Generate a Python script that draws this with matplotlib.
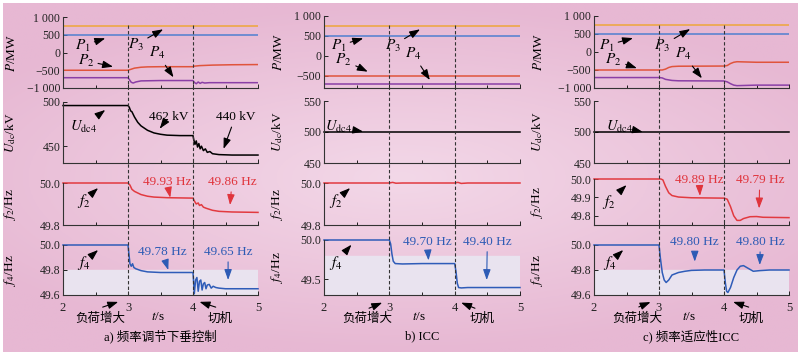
import numpy as np
import matplotlib
matplotlib.use('Agg')
import matplotlib.pyplot as plt

plt.rcParams['font.family'] = ['Liberation Serif', 'Noto Sans CJK SC']
plt.rcParams['mathtext.fontset'] = 'stix'
plt.rcParams['font.size'] = 8.5
plt.rcParams['axes.unicode_minus'] = True

# ---- data ----
t_flat = [2, 5]
p1_level = [500, 500]
p3_level = [750, 750]

# a) droop control
p2_a_t = [2, 3.0, 3.05, 3.1, 3.2, 3.3, 3.5, 4.0, 4.02, 4.1, 4.3, 4.6, 5.0]
p2_a = [-500, -500, -470, -440, -415, -405, -400, -400, -385, -370, -355, -345, -340]
p4_a_t = [2, 3.0, 3.02, 3.05, 3.08, 3.12, 3.2, 3.5, 4.0, 4.02, 4.05, 4.08, 4.11, 4.14, 4.18, 4.25, 5.0]
p4_a = [-710, -710, -760, -840, -860, -830, -800, -790, -790, -840, -880, -830, -870, -840, -860, -850, -850]
udc_a_t = [2, 3.0, 3.02, 3.04, 3.06, 3.08, 3.1, 3.15, 3.2, 3.3, 3.4, 3.5, 3.6, 3.8, 4.0, 4.01, 4.03,
           4.05, 4.07, 4.09, 4.11, 4.13, 4.16, 4.19, 4.22, 4.26, 4.3, 4.4, 4.6, 5.0]
udc_a = [496, 496, 494, 490, 489, 486, 483, 477, 473, 468, 465, 463.5, 462.5, 462, 462, 458, 452,
         456, 449, 453, 447, 450, 445, 447, 443, 444, 441.5, 440.5, 440, 440]
f2_a_t = [2, 3.0, 3.03, 3.06, 3.1, 3.2, 3.3, 3.4, 3.6, 4.0, 4.02, 4.05, 4.08, 4.1, 4.13, 4.16, 4.2,
          4.3, 4.4, 4.6, 5.0]
f2_a = [50, 50, 49.99, 49.97, 49.96, 49.945, 49.937, 49.933, 49.93, 49.928, 49.915, 49.9, 49.905,
        49.893, 49.897, 49.885, 49.88, 49.87, 49.865, 49.862, 49.86]
f4_a_t = [2, 3.0, 3.01, 3.03, 3.05, 3.07, 3.09, 3.12, 3.2, 3.3, 3.5, 4.0, 4.01, 4.02, 4.04, 4.06,
          4.08, 4.1, 4.12, 4.14, 4.16, 4.18, 4.2, 4.22, 4.25, 4.28, 4.31, 4.35, 4.4, 4.5, 5.0]
f4_a = [50, 50, 49.95, 49.85, 49.83, 49.85, 49.82, 49.81, 49.795, 49.785, 49.78, 49.78, 49.7, 49.61,
        49.72, 49.74, 49.63, 49.71, 49.72, 49.64, 49.69, 49.7, 49.65, 49.68, 49.685, 49.655, 49.67,
        49.66, 49.655, 49.65, 49.65]

# b) ICC
p2_b = [-490, -490]
p4_b = [-700, -700]
udc_b = [500, 500]
f2_b_t = [2, 3.0, 3.05, 3.1, 3.2, 4.0, 4.05, 4.1, 4.2, 5.0]
f2_b = [50, 50, 50.003, 49.999, 50, 50, 50.003, 49.998, 50, 50]
f4_b_t = [2, 3.0, 3.02, 3.04, 3.06, 3.09, 3.2, 3.5, 4.0, 4.02, 4.04, 4.06, 4.1, 4.2, 5.0]
f4_b = [50, 50, 49.95, 49.82, 49.73, 49.70, 49.695, 49.70, 49.70, 49.6, 49.45, 49.395, 49.39,
        49.395, 49.395]

# c) frequency-adaptive ICC
p2_c_t = [2, 3.05, 3.1, 3.15, 3.2, 3.3, 4.0, 4.05, 4.1, 4.15, 4.2, 4.3, 4.5, 5.0]
p2_c = [-500, -500, -475, -430, -405, -395, -390, -375, -320, -285, -270, -275, -285, -285]
p4_c_t = [2, 3.0, 3.05, 3.1, 3.2, 3.3, 4.0, 4.05, 4.1, 4.15, 4.2, 4.3, 4.5, 5.0]
p4_c = [-710, -710, -720, -760, -790, -800, -805, -830, -880, -920, -935, -930, -920, -920]
udc_c = [500, 500]
f2_c_t = [2, 3.03, 3.06, 3.1, 3.15, 3.2, 3.3, 3.5, 4.0, 4.05, 4.1, 4.15, 4.2, 4.25, 4.3, 4.4,
          4.5, 4.6, 5.0]
f2_c = [50, 50, 49.995, 49.96, 49.925, 49.91, 49.902, 49.898, 49.896, 49.89, 49.85, 49.8, 49.775,
        49.775, 49.785, 49.795, 49.796, 49.792, 49.79]
f4_c_t = [2, 3.0, 3.02, 3.05, 3.08, 3.11, 3.15, 3.2, 3.3, 3.4, 3.5, 3.7, 4.0, 4.02, 4.04, 4.06,
          4.1, 4.15, 4.2, 4.25, 4.3, 4.35, 4.45, 4.55, 4.7, 5.0]
f4_c = [50, 50, 49.9, 49.78, 49.72, 49.70, 49.72, 49.76, 49.78, 49.79, 49.797, 49.8, 49.8, 49.7,
        49.63, 49.62, 49.66, 49.74, 49.8, 49.83, 49.835, 49.82, 49.79, 49.795, 49.8, 49.8]

x_ticks = [2, 3, 4, 5]
captions = ['a) 频率调节下垂控制', 'b) ICC', 'c) 频率适应性ICC']

C_P1, C_P2, C_P3, C_P4 = '#4f7fd0', '#e0543c', '#eea63a', '#8a3fa6'
C_RED, C_BLUE = '#e23a40', '#2f5cb8'
C_TXT_RED, C_TXT_BLUE = '#e0343c', '#2d5bb5'

W, H = 800, 354
fig = plt.figure(figsize=(W / 100, H / 100), dpi=100, facecolor='white')

# pink background
bg = fig.add_axes([3 / W, 2 / H, (W - 6) / W, (H - 5) / H], zorder=-10)
yy, xx = np.mgrid[-1:1:200j, -1:1:400j]
r = np.clip(np.sqrt((xx * 0.8) ** 2 + (yy * 1.0) ** 2), 0, 1)
c_in = np.array([243, 216, 232]) / 255
c_out = np.array([231, 184, 211]) / 255
img = c_in[None, None, :] * (1 - r[..., None]) + c_out[None, None, :] * r[..., None]
bg.imshow(img, aspect='auto', extent=[0, 1, 0, 1])
bg.axis('off')

ARROW = '-|>,head_length=0.7,head_width=0.25'


def box(x0, x1, ytop, ybot):
    return [x0 / W, 1 - ybot / H, (x1 - x0) / W, (ybot - ytop) / H]


def style(ax, ylim, yticks, yticklabels, ylabel, lab_x, bottom=False):
    ax.set_facecolor('none')
    ax.set_xlim(2, 5)
    ax.set_ylim(*ylim)
    for s in ['top', 'right']:
        ax.spines[s].set_visible(False)
    for s in ['left', 'bottom']:
        ax.spines[s].set_linewidth(0.8)
        ax.spines[s].set_color('#333333')
    ax.set_yticks(yticks)
    ax.set_yticklabels(yticklabels)
    ax.set_xticks(x_ticks)
    ax.set_xticks(np.arange(2, 5.01, 0.5), minor=True)
    ax.tick_params(direction='in', length=3, width=0.7, labelsize=8.5, pad=2, colors='#222222')
    ax.tick_params(which='minor', direction='in', length=2, width=0.6)
    if not bottom:
        ax.set_xticklabels([])
    else:
        ax.tick_params(axis='x', pad=5, labelsize=9)
    ax.set_ylabel(ylabel, fontsize=9.5)
    ax.yaxis.set_label_coords(lab_x, 0.5)


def arrow(ax, label, tip, txt, color='black', size=8.5):
    ax.annotate(label, xy=tip, xytext=txt, color=color, fontsize=size, ha='center', va='center',
                annotation_clip=False,
                arrowprops=dict(arrowstyle=ARROW, color=color, lw=0.8, mutation_scale=9,
                                shrinkA=1, shrinkB=0))


panels = [
    dict(x=(63, 258), boxes=[(17, 88), (102, 163), (183, 225), (245, 295)], labx=-0.23,
         p2=(p2_a_t, p2_a), p4=(p4_a_t, p4_a), udc=(udc_a_t, udc_a), f2=(f2_a_t, f2_a), f4=(f4_a_t, f4_a),
         plim=(-1000, 1000), pt=[1000, 500, 0, -500, -1000], ptl=['1 000', '500', '0', '−500', '−1 000'],
         ulim=(431, 500), ut=[450, 500], f2lim=(49.8, 50.0), f2t=[49.8, 50.0], f4lim=(49.6, 50.0),
         f4t=[49.6, 49.8, 50.0]),
    dict(x=(324, 520), boxes=[(16, 88), (101, 163), (183, 225), (240, 295)], labx=-0.2,
         p2=(t_flat, p2_b), p4=(t_flat, p4_b), udc=(t_flat, udc_b), f2=(f2_b_t, f2_b), f4=(f4_b_t, f4_b),
         plim=(-800, 1000), pt=[1000, 500, 0, -500], ptl=['1 000', '500', '0', '−500'],
         ulim=(450, 550), ut=[450, 500, 550], f2lim=(49.8, 50.0), f2t=[49.8, 50.0], f4lim=(49.3, 50.0),
         f4t=[49.5, 50.0]),
    dict(x=(594, 789), boxes=[(16, 88), (101, 163), (179, 225), (245, 295)], labx=-0.25,
         p2=(p2_c_t, p2_c), p4=(p4_c_t, p4_c), udc=(t_flat, udc_c), f2=(f2_c_t, f2_c), f4=(f4_c_t, f4_c),
         plim=(-1000, 1000), pt=[1000, 500, 0, -500, -1000], ptl=['1 000', '500', '0', '−500', '−1 000'],
         ulim=(450, 550), ut=[450, 500, 550], f2lim=(49.75, 50.0), f2t=[49.8, 49.9, 50.0],
         f4lim=(49.6, 50.0), f4t=[49.6, 49.8, 50.0]),
]

# annotation positions (tip, text) per panel
ann_P = [
    [((2.65, 400), (2.3, 190)), ((2.77, -400), (2.35, -231)), ((3.54, 653), (3.12, 220)), ((3.7, -699), (3.45, -23))],
    [((2.6, 442), (2.22, 255)), ((2.67, -392), (2.3, -100)), ((3.47, 667), (3.05, 255)), ((3.62, -600), (3.36, 50))],
    [((2.6, 386), (2.19, 180)), ((2.66, -450), (2.3, -227)), ((3.48, 637), (3.05, 180)), ((3.66, -730), (3.37, -60))],
]
ann_U = [((2.65, 491), (2.31, 472)), ((2.6, 500.5), (2.22, 507.6)), ((2.75, 500), (2.4, 508.6))]
ann_f2 = [((2.54, 49.976), (2.32, 49.915)), ((2.4, 49.976), (2.18, 49.915)), ((2.5, 49.967), (2.23, 49.875))]
ann_f4 = [((2.54, 49.96), (2.32, 49.86)), ((2.42, 49.94), (2.18, 49.71)), ((2.45, 49.96), (2.24, 49.86))]
ann_f2_val = [
    [('49.93 Hz', (3.65, 49.93), (3.6, 50.006)), ('49.86 Hz', (4.57, 49.895), (4.6, 50.006))],
    [],
    [('49.89 Hz', (3.63, 49.908), (3.62, 49.995)), ('49.79 Hz', (4.54, 49.84), (4.55, 49.995))],
]
ann_f4_val = [
    [('49.78 Hz', (3.62, 49.8), (3.53, 49.946)), ('49.65 Hz', (4.54, 49.72), (4.54, 49.946))],
    [('49.70 Hz', (3.6, 49.74), (3.58, 49.98)), ('49.40 Hz', (4.49, 49.49), (4.5, 49.98))],
    [('49.80 Hz', (3.55, 49.867), (3.55, 50.026)), ('49.80 Hz', (4.55, 49.84), (4.56, 50.026))],
]
load_x = [(2.89, 2.57), (2.93, 2.65), (2.91, 2.65)]
trip_x = [(4.06, 4.39), (4.06, 4.35), (4.1, 4.42)]

for i, pn in enumerate(panels):
    x0, x1 = pn['x']
    axP = fig.add_axes(box(x0, x1, *pn['boxes'][0]))
    axU = fig.add_axes(box(x0, x1, *pn['boxes'][1]))
    axF2 = fig.add_axes(box(x0, x1, *pn['boxes'][2]))
    axF4 = fig.add_axes(box(x0, x1, *pn['boxes'][3]))

    # dashed event lines spanning all subplots
    ov = fig.add_axes(box(x0, x1, 25, 295), zorder=5)
    ov.set_xlim(2, 5)
    ov.axis('off')
    ov.patch.set_visible(False)
    for tx in [3, 4]:
        ov.axvline(tx, color='#333333', ls=(0, (3, 2)), lw=0.8)

    lw = 1.1
    axP.plot(t_flat, p3_level, color=C_P3, lw=lw)
    axP.plot(t_flat, p1_level, color=C_P1, lw=lw)
    axP.plot(*pn['p2'], color=C_P2, lw=lw)
    axP.plot(*pn['p4'], color=C_P4, lw=lw)
    style(axP, pn['plim'], pn['pt'], pn['ptl'], r'$P$/MW', pn['labx'])

    axU.plot(*pn['udc'], color='black', lw=lw, clip_on=False)
    style(axU, pn['ulim'], pn['ut'], [str(v) for v in pn['ut']], r'$U_{\rm dc}$/kV', pn['labx'])

    axF2.plot(*pn['f2'], color=C_RED, lw=lw, clip_on=False)
    style(axF2, pn['f2lim'], pn['f2t'], ['%.1f' % v for v in pn['f2t']], r'$f_2$/Hz', pn['labx'])

    axF4.axhspan(pn['f4lim'][0], 49.8, color='#e9e3ef', zorder=0)
    axF4.plot(*pn['f4'], color=C_BLUE, lw=lw, clip_on=False)
    style(axF4, pn['f4lim'], pn['f4t'], ['%.1f' % v for v in pn['f4t']], r'$f_4$/Hz', pn['labx'],
          bottom=True)

    for lab, (tip, txt) in zip([r'$P_1$', r'$P_2$', r'$P_3$', r'$P_4$'], ann_P[i]):
        arrow(axP, lab, tip, txt, size=11)
    arrow(axU, r'$U_{\rm dc4}$', ann_U[i][0], ann_U[i][1], size=10.5)
    if i == 0:
        arrow(axU, '462 kV', (3.49, 470), (3.62, 483), size=9.5)
        arrow(axU, '440 kV', (4.47, 447), (4.65, 483), size=9.5)
    arrow(axF2, r'$f_2$', ann_f2[i][0], ann_f2[i][1], size=11)
    arrow(axF4, r'$f_4$', ann_f4[i][0], ann_f4[i][1], size=11)
    for lab, tip, txt in ann_f2_val[i]:
        arrow(axF2, lab, tip, txt, color=C_TXT_RED, size=9.5)
    for lab, tip, txt in ann_f4_val[i]:
        arrow(axF4, lab, tip, txt, color=C_TXT_BLUE, size=9.5)

    # event markers below the time axis
    ylo, yhi = pn['f4lim']
    span = (yhi - ylo) / 50.0  # data units per pixel
    y_tip = ylo - 6 * span
    y_tail = ylo - 13 * span
    for ex in (load_x[i], trip_x[i]):
        axF4.annotate('', xy=(ex[0], y_tip), xytext=(ex[1], y_tail), annotation_clip=False,
                      arrowprops=dict(arrowstyle=ARROW, color='black', lw=0.8, mutation_scale=9))

    cx = (x0 + x1) / 2
    fig.text((x0 + 37 if i == 0 else x0 + 43) / W, 1 - 319 / H, '负荷增大', ha='center', va='center',
             fontsize=9)
    fig.text((x1 - 38) / W, 1 - 319 / H, '切机', ha='center', va='center', fontsize=9)
    fig.text((cx - 3) / W, 1 - 317 / H, r'$t$/s', ha='center', va='center', fontsize=9.5)
    fig.text(cx / W, 1 - 336 / H, captions[i], ha='center', va='center', fontsize=9)

fig.savefig('out.png', dpi=100, facecolor=fig.get_facecolor())
